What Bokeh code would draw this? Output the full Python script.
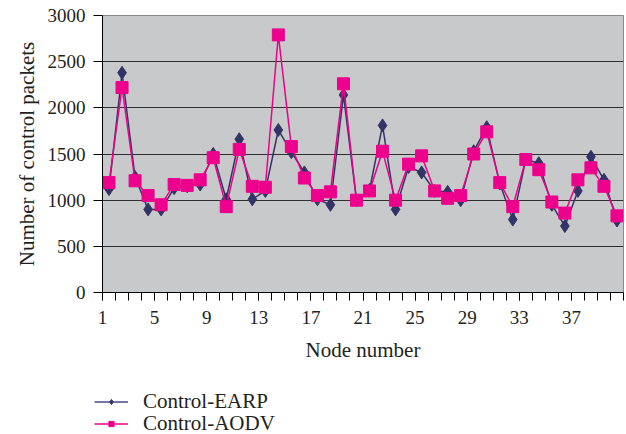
from bokeh.plotting import figure
from bokeh.models import FixedTicker, Legend, LegendItem, Range1d
from bokeh.layouts import column
from bokeh.embed import file_html
from bokeh.resources import INLINE

# ---- data ----
nodes = list(range(1, 41))
earp = [1120, 2380, 1250, 900, 900, 1130, 1150, 1170, 1500, 1010,
        1660, 1010, 1100, 1760, 1520, 1300, 1010, 950, 2140, 1000,
        1110, 1810, 900, 1360, 1300, 1100, 1090, 1000, 1530, 1790,
        1180, 790, 1440, 1400, 950, 720, 1100, 1470, 1220, 780]
aodv = [1190, 2220, 1210, 1050, 950, 1170, 1160, 1220, 1460, 930,
        1550, 1150, 1140, 2790, 1580, 1240, 1050, 1090, 2260, 1000,
        1100, 1530, 1000, 1390, 1480, 1100, 1020, 1050, 1500, 1740,
        1190, 930, 1440, 1330, 980, 860, 1220, 1350, 1150, 830]
x_tick_labels = ["1", "5", "9", "13", "17", "21", "25", "29", "33", "37"]
y_ticks = [0, 500, 1000, 1500, 2000, 2500, 3000]
series_names = ["Control-EARP", "Control-AODV"]

FONT = "Liberation Serif"
TXT = "#231F20"
EARP_C = "#333366"
AODV_C = "#EC008C"

p = figure(width=626, height=375, output_backend="svg", toolbar_location=None,
           x_range=Range1d(0.5, 40.5), y_range=Range1d(0, 3000),
           min_border_left=102, min_border_right=3, min_border_top=15,
           min_border_bottom=83)
p.frame_align = False
p.background_fill_color = "#C8C9CB"
p.border_fill_color = "white"
p.outline_line_color = "#8a8a8a"

# x axis: labels at category boundaries
major_pos = [int(t) - 0.5 for t in x_tick_labels]
p.xaxis.ticker = FixedTicker(ticks=major_pos,
                             minor_ticks=[n - 0.5 for n in nodes] + [nodes[-1] + 0.5])
p.xaxis.major_label_overrides = {pos: lab for pos, lab in zip(major_pos, x_tick_labels)}
p.xaxis.axis_label = "Node number"
p.yaxis.ticker = FixedTicker(ticks=y_ticks, minor_ticks=[])
p.yaxis.axis_label = "Number of control packets"

for ax in (p.xaxis[0], p.yaxis[0]):
    ax.axis_line_color = "black"
    ax.major_tick_line_color = "black"
    ax.minor_tick_line_color = "black"
    ax.major_tick_in = 0
    ax.minor_tick_in = 0
    ax.major_label_text_font = FONT
    ax.major_label_text_font_size = "19px"
    ax.major_label_text_color = TXT
    ax.axis_label_text_font = FONT
    ax.axis_label_text_font_size = "21px"
    ax.axis_label_text_font_style = "normal"
    ax.axis_label_text_color = TXT

p.xaxis.major_tick_out = 8
p.xaxis.minor_tick_out = 8
p.xaxis.major_label_standoff = 10
p.xaxis.axis_label_standoff = 11
p.yaxis.major_tick_out = 9
p.yaxis.minor_tick_out = 0
p.yaxis.major_label_standoff = 8
p.yaxis.axis_label_standoff = 6

p.xgrid.visible = False
p.ygrid.ticker = FixedTicker(ticks=y_ticks[1:])
p.ygrid.grid_line_color = "#2f2f2f"
p.ygrid.grid_line_width = 1

p.line(nodes, earp, line_color=EARP_C, line_width=1.5)
p.scatter(nodes, earp, marker="diamond", size=13, fill_color=EARP_C, line_color=EARP_C)
p.line(nodes, aodv, line_color=AODV_C, line_width=1.5)
p.scatter(nodes, aodv, marker="square", size=12, fill_color=AODV_C, line_color=AODV_C)

# ---- legend panel below the chart ----
q = figure(width=626, height=59, output_backend="svg", toolbar_location=None,
           x_range=Range1d(0, 1), y_range=Range1d(0, 1),
           min_border_left=0, min_border_right=0, min_border_top=0, min_border_bottom=0)
q.frame_align = False
q.axis.visible = False
q.grid.visible = False
q.outline_line_color = None
q.background_fill_color = "white"
q.border_fill_color = "white"
# proxy renderers lie outside the visible range; they only feed the legend
k1 = q.line([-5, -4], [-5, -4], line_color="#4a4a80", line_width=1.5)
s1 = q.scatter([-5], [-5], marker="diamond", size=9, fill_color=EARP_C, line_color=EARP_C)
k2 = q.line([-5, -4], [-5, -4], line_color=AODV_C, line_width=1.5)
s2 = q.scatter([-5], [-5], marker="square", size=8, fill_color=AODV_C, line_color=AODV_C)

for name, rends, loc in [(series_names[0], [k1, s1], (94, 20)),
                         (series_names[1], [k2, s2], (94, -2))]:
    lg = Legend(items=[LegendItem(label=name, renderers=rends)], location=loc)
    lg.background_fill_alpha = 0
    lg.border_line_color = None
    lg.padding = 0
    lg.margin = 0
    lg.glyph_width = 34
    lg.glyph_height = 13
    lg.label_height = 20
    lg.label_standoff = 15
    lg.label_text_font = FONT
    lg.label_text_font_size = "21px"
    lg.label_text_color = TXT
    q.add_layout(lg, "center")

open("out.html", "w").write(file_html(column(p, q, spacing=0), INLINE))
